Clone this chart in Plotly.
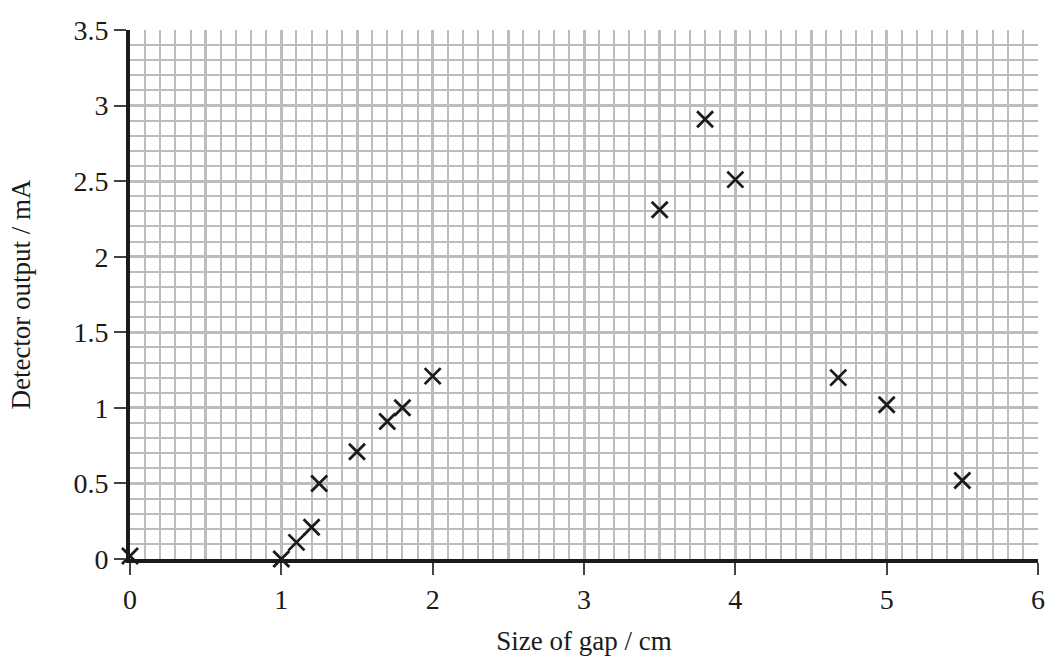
import plotly.graph_objects as go

gap_cm = [0, 1.0, 1.1, 1.2, 1.25, 1.5, 1.7, 1.8, 2.0, 3.5, 3.8, 4.0, 4.68, 5.0, 5.5]
output_mA = [0.02, 0.0, 0.11, 0.21, 0.5, 0.71, 0.91, 1.0, 1.21, 2.31, 2.91, 2.51, 1.2, 1.02, 0.52]

x_ticks = [0, 1, 2, 3, 4, 5, 6]
x_half = [0.5 * i for i in range(13)]
y_ticks = [0, 0.5, 1, 1.5, 2, 2.5, 3, 3.5]
y_ticktext = ["0", "0.5", "1", "1.5", "2", "2.5", "3", "3.5"]

grid = "#bdbdbf"
font = "Liberation Serif"

fig = go.Figure()
fig.add_trace(go.Scatter(
    x=gap_cm, y=output_mA, mode="markers",
    marker=dict(symbol="x-thin", size=16, color="#1a1a1a",
                line=dict(color="#1a1a1a", width=2.8)),
    cliponaxis=False, showlegend=False,
))
# invisible trace for the half-unit vertical grid axis
fig.add_trace(go.Scatter(x=[0, 6], y=[0, 0], xaxis="x2", mode="markers",
                         marker=dict(opacity=0), showlegend=False, hoverinfo="skip"))

fig.update_layout(
    width=1045, height=661,
    margin=dict(l=130, r=7, t=30, b=102, autoexpand=False),
    paper_bgcolor="white", plot_bgcolor="white",
    font=dict(family=font, size=28, color="#1a1a1a"),
    xaxis=dict(
        range=[0, 6], tickvals=x_ticks, ticks="outside", ticklen=12,
        tickwidth=1.5, tickcolor="#444444", showgrid=False, zeroline=False,
        showline=True, linecolor="#1a1a1a", linewidth=4,
        tickfont=dict(size=28),
        minor=dict(dtick=0.1, tick0=0, showgrid=True, gridcolor=grid, gridwidth=1.8, ticks=""),
        title=dict(text="Size of gap / cm", font=dict(size=27), standoff=19),
        layer="above traces", automargin=False,
    ),
    xaxis2=dict(
        range=[0, 6], overlaying="x", tickvals=x_half, showticklabels=False,
        ticks="", showgrid=True, gridcolor=grid, gridwidth=3.2, zeroline=False,
        showline=False,
    ),
    yaxis=dict(
        range=[0, 3.5], tickvals=y_ticks, ticktext=y_ticktext, ticks="outside",
        ticklen=12, tickwidth=1.5, tickcolor="#444444",
        tickfont=dict(size=28),
        showgrid=True, gridcolor=grid, gridwidth=3.2, zeroline=False,
        showline=True, linecolor="#1a1a1a", linewidth=4,
        minor=dict(dtick=0.1, tick0=0, showgrid=True, gridcolor=grid, gridwidth=1.8, ticks=""),
        title=dict(text="Detector output / mA", font=dict(size=27), standoff=36),
        layer="above traces", automargin=False,
    ),
)
fig.write_html("out.html", config={"displayModeBar": False},
               post_script="document.body.style.margin='0';document.body.style.overflow='hidden';")
